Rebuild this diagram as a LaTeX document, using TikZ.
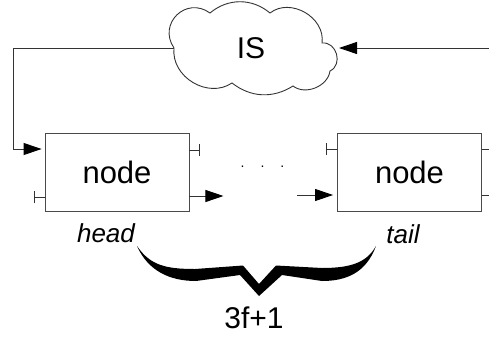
\documentclass[tikz,border=0pt]{standalone}
\usepackage{fontspec}
\setmainfont{Liberation Sans}
\usetikzlibrary{arrows.meta}
\definecolor{ink}{HTML}{333333}
\definecolor{frame}{HTML}{4A4A4A}
\begin{document}
\begin{tikzpicture}[x=1pt,y=-1pt,
  line/.style={draw=ink,line width=0.9pt},
  arr/.style={line,-{Triangle[length=18pt,width=12pt,color=black,fill=black]}},
  barend/.style={line,-{Bar[width=12pt]}},
  box/.style={draw=frame,line width=0.9pt,minimum width=144pt,minimum height=78pt,
              inner sep=0pt,font=\fontsize{31}{37}\selectfont},
  lbl/.style={font=\fontsize{26}{31}\selectfont\itshape,anchor=base},
]
\useasboundingbox (0,0) rectangle (489,338);

% the instruction store, drawn as a cloud
\draw[line]
  (174,48) to[bend left=80,looseness=1.5] (210,13)
           to[bend left=40] (270,13)
           to[bend left=68,looseness=1.1] (322,43)
           to[bend left=80,looseness=1.3] (330,71)
           to[bend left=60] (293,86)
           to[bend left=35] (232,83)
           to[bend left=65,looseness=1.1] (174,48) -- cycle;
\node[font=\fontsize{30}{36}\selectfont] (is) at (251,48) {IS};
\coordinate (cloudL) at (174,48);
\coordinate (cloudR) at (339,48);
\coordinate (edgeR) at (489,48);
\coordinate (turn) at (13,48);

% the two chain nodes
\node[box] (head) at (117,172) {node};
\node[box] (tail) at (409.5,172) {node};

% feed from the cloud into the head, and from the right into the cloud
\draw[arr,shorten >=3pt] (cloudL) -- (turn) |- ([yshift=23pt]head.west);
\draw[arr] (edgeR) -- (cloudR);

% stubs on the head node
\draw[barend] ([yshift=22pt]head.east) -- ++(10,0);
\draw[barend] ([yshift=-25pt]head.west) -- ++(-11,0);
\draw[arr] ([yshift=-24pt]head.east) -- ++(34,0);

% stubs on the tail node
\draw[barend] ([yshift=23pt]tail.west) -- ++(-11,0);
\draw[arr,shorten >=4pt] ([yshift=-23pt,xshift=-40pt]tail.west) -- ([yshift=-23pt]tail.west);
\draw[line] ([yshift=23pt]tail.east) -- ++(10,0);
\draw[line] ([yshift=-23pt]tail.east) -- ++(10,0);

% the nodes in between
\node[font=\fontsize{14}{17}\selectfont,anchor=base] (gap) at (262.5,167) {.\hspace{16pt}.\hspace{16pt}.};

% end labels
\node[lbl] (hl) at (106,242) {head};
\node[lbl] (tl) at (403,243) {tail};

% brace spanning the chain
\fill[black]
  (137,246) .. controls (150,265) and (165,269) .. (195,269)
  -- (243,265.5) -- (259,284) -- (276,265.5) -- (322,268)
  .. controls (352,268) and (367,262) .. (376,246)
  .. controls (366,273) and (346,281) .. (322,281)
  -- (282,275) -- (259,296) -- (240,275) -- (196,281)
  .. controls (170,281) and (148,271) .. (137,246) -- cycle;
\node[font=\fontsize{30}{36}\selectfont,anchor=base] (count) at (254,328.3) {3f+1};
\end{tikzpicture}
\end{document}
